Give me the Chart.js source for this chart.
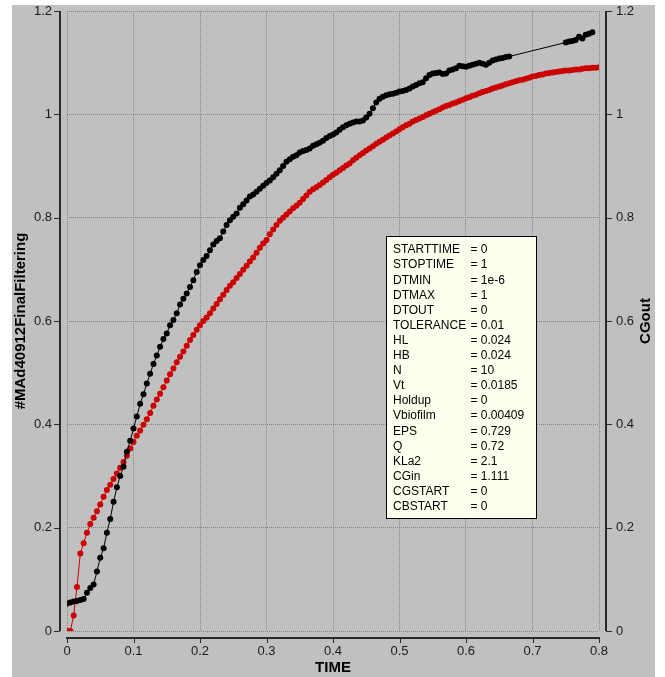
<!DOCTYPE html>
<html>
<head>
<meta charset="utf-8">
<script src="https://cdn.jsdelivr.net/npm/chart.js@4.4.1/dist/chart.umd.min.js"></script>
<style>
html, body { margin: 0; padding: 0; background: #fff; }
canvas { display: block; }
</style>
</head>
<body>
<canvas id="simChart" width="665" height="677"></canvas>
<script>
// sample times (TIME)
const times = [
  0, 0.005, 0.01, 0.015, 0.02, 0.025, 0.03, 0.035, 0.04, 0.045, 0.05, 0.055, 0.06, 0.065, 0.07, 0.075, 0.08, 0.085, 0.09, 0.095,
  0.1, 0.105, 0.11, 0.115, 0.12, 0.125, 0.13, 0.135, 0.14, 0.145, 0.15, 0.155, 0.16, 0.165, 0.17, 0.175, 0.18, 0.185, 0.19, 0.195,
  0.2, 0.205, 0.21, 0.215, 0.22, 0.225, 0.23, 0.235, 0.24, 0.245, 0.25, 0.255, 0.26, 0.265, 0.27, 0.275, 0.28, 0.285, 0.29, 0.295,
  0.3, 0.305, 0.31, 0.315, 0.32, 0.325, 0.33, 0.335, 0.34, 0.345, 0.35, 0.355, 0.36, 0.365, 0.37, 0.375, 0.38, 0.385, 0.39, 0.395,
  0.4, 0.405, 0.41, 0.415, 0.42, 0.425, 0.43, 0.435, 0.44, 0.445, 0.45, 0.455, 0.46, 0.465, 0.47, 0.475, 0.48, 0.485, 0.49, 0.495,
  0.5, 0.505, 0.51, 0.515, 0.52, 0.525, 0.53, 0.535, 0.54, 0.545, 0.55, 0.555, 0.56, 0.565, 0.57, 0.575, 0.58, 0.585, 0.59, 0.595,
  0.6, 0.605, 0.61, 0.615, 0.62, 0.625, 0.63, 0.635, 0.64, 0.645, 0.65, 0.655, 0.66, 0.665, 0.67, 0.675, 0.68, 0.685, 0.69, 0.695,
  0.7, 0.705, 0.71, 0.715, 0.72, 0.725, 0.73, 0.735, 0.74, 0.745, 0.75, 0.755, 0.76, 0.765, 0.77, 0.775, 0.78, 0.785, 0.79, 0.795,
  0.8
];

// #MAd40912FinalFiltering (measured, left axis)
const measured = [
  0.053, 0.055, 0.057, 0.058, 0.06, 0.062, 0.074, 0.083, 0.09, 0.115, 0.142, 0.16, 0.19, 0.217, 0.25, 0.278, 0.3, 0.318, 0.347, 0.368,
  0.392, 0.415, 0.44, 0.458, 0.479, 0.498, 0.517, 0.533, 0.55, 0.565, 0.576, 0.592, 0.602, 0.615, 0.632, 0.643, 0.653, 0.666, 0.679, 0.695,
  0.708, 0.718, 0.726, 0.737, 0.748, 0.755, 0.76, 0.773, 0.786, 0.795, 0.802, 0.808, 0.819, 0.826, 0.833, 0.841, 0.845, 0.85, 0.856, 0.862,
  0.867, 0.872, 0.878, 0.885, 0.892, 0.9, 0.908, 0.913, 0.918, 0.921, 0.926, 0.929, 0.931, 0.934, 0.939, 0.942, 0.945, 0.949, 0.954, 0.958,
  0.961, 0.965, 0.97, 0.975, 0.979, 0.982, 0.984, 0.986, 0.986, 0.988, 0.994, 1.001, 1.012, 1.023, 1.03, 1.034, 1.037, 1.039, 1.04, 1.042,
  1.044, 1.045, 1.047, 1.05, 1.054, 1.057, 1.06, 1.062, 1.07, 1.076, 1.079, 1.08, 1.081, 1.078, 1.079, 1.085, 1.087, 1.089, 1.094, 1.093,
  1.092, 1.094, 1.096, 1.098, 1.1, 1.098, 1.096, 1.1, 1.104, 1.106, 1.108, 1.109, 1.111, 1.112, null, null, null, null, null, null,
  null, null, null, null, null, null, null, null, null, null, 1.139, 1.141, 1.142, 1.144, 1.15, 1.147, 1.154, 1.156, 1.159, null,
  null
];

// CGout (model, right axis)
const cgout = [
  0, 0, 0.03, 0.085, 0.15, 0.17, 0.19, 0.207, 0.219, 0.232, 0.245, 0.26, 0.273, 0.283, 0.294, 0.305, 0.316, 0.327, 0.339, 0.353,
  0.366, 0.378, 0.388, 0.399, 0.41, 0.422, 0.436, 0.448, 0.459, 0.472, 0.485, 0.497, 0.508, 0.52, 0.531, 0.541, 0.552, 0.563, 0.573, 0.583,
  0.592, 0.6, 0.607, 0.615, 0.624, 0.633, 0.642, 0.651, 0.66, 0.668, 0.675, 0.683, 0.691, 0.699, 0.707, 0.715, 0.723, 0.732, 0.742, 0.75,
  0.757, 0.768, 0.777, 0.786, 0.794, 0.8, 0.806, 0.812, 0.818, 0.823, 0.829, 0.836, 0.843, 0.85, 0.855, 0.859, 0.863, 0.868, 0.873, 0.878,
  0.883, 0.887, 0.892, 0.896, 0.901, 0.905, 0.911, 0.916, 0.921, 0.925, 0.93, 0.934, 0.938, 0.943, 0.947, 0.951, 0.955, 0.959, 0.963, 0.967,
  0.971, 0.975, 0.979, 0.982, 0.986, 0.989, 0.992, 0.995, 0.998, 1.001, 1.004, 1.007, 1.01, 1.013, 1.016, 1.018, 1.021, 1.023, 1.026, 1.028,
  1.031, 1.033, 1.036, 1.038, 1.041, 1.043, 1.045, 1.047, 1.05, 1.052, 1.054, 1.056, 1.058, 1.06, 1.062, 1.064, 1.066, 1.067, 1.069, 1.071,
  1.073, 1.074, 1.076, 1.077, 1.079, 1.08, 1.081, 1.082, 1.083, 1.084, 1.085, 1.085, 1.086, 1.087, 1.087, 1.088, 1.089, 1.089, 1.09, 1.09,
  1.091
];

// parameter box
const paramNames = ['STARTTIME', 'STOPTIME', 'DTMIN', 'DTMAX', 'DTOUT', 'TOLERANCE', 'HL', 'HB', 'N', 'Vt',
  'Holdup', 'Vbiofilm', 'EPS', 'Q', 'KLa2', 'CGin', 'CGSTART', 'CBSTART'];
const paramValues = ['0', '1', '1e-6', '1', '0', '0.01', '0.024', '0.024', '10', '0.0185',
  '0', '0.00409', '0.729', '0.72', '2.1', '1.111', '0', '0'];

const FONT = '"Liberation Sans", Arial, sans-serif';
Chart.defaults.font.family = FONT;

// grey panel, offset axes, parameter box, right title
const framePlugin = {
  id: 'frame',
  beforeDraw(chart) {
    const c = chart.ctx;
    c.save();
    c.fillStyle = '#ffffff';
    c.fillRect(0, 0, chart.width, chart.height);
    c.fillStyle = '#c0c0c0';
    c.fillRect(12, 5, 643, chart.height - 5);
    c.restore();
  },
  afterDraw(chart) {
    const c = chart.ctx;
    const a = chart.chartArea;
    const sx = chart.scales.x, sy = chart.scales.y, sy2 = chart.scales.y2;
    c.save();
    // axis lines
    c.strokeStyle = '#2a2a2a';
    c.lineWidth = 2;
    c.beginPath();
    c.moveTo(a.left - 7, a.top); c.lineTo(a.left - 7, a.bottom);
    c.moveTo(a.right + 7, a.top); c.lineTo(a.right + 7, a.bottom);
    c.moveTo(a.left - 1, a.bottom + 7); c.lineTo(a.right + 1, a.bottom + 7);
    c.stroke();
    // tick marks
    c.lineWidth = 1;
    c.beginPath();
    sy.ticks.forEach(t => {
      const p = Math.round(sy.getPixelForValue(t.value)) + 0.5;
      c.moveTo(a.left - 7, p); c.lineTo(a.left - 13, p);
    });
    sy2.ticks.forEach(t => {
      const p = Math.round(sy2.getPixelForValue(t.value)) + 0.5;
      c.moveTo(a.right + 7, p); c.lineTo(a.right + 13, p);
    });
    sx.ticks.forEach(t => {
      const p = Math.round(sx.getPixelForValue(t.value)) + 0.5;
      c.moveTo(p, a.bottom + 7); c.lineTo(p, a.bottom + 12);
    });
    c.stroke();

    // right axis title
    c.fillStyle = '#000';
    c.font = 'bold 15px ' + FONT;
    c.textAlign = 'center';
    c.textBaseline = 'middle';
    c.translate(646, (a.top + a.bottom) / 2);
    c.rotate(-Math.PI / 2);
    c.fillText('CGout', 0, 0);
    c.restore();

    // parameter box
    c.save();
    const bx = a.left + 319, by = a.top + 225, bw = 151, bh = 283;
    c.fillStyle = '#fffff0';
    c.fillRect(bx, by, bw, bh);
    c.strokeStyle = '#000';
    c.lineWidth = 1;
    c.strokeRect(bx + 0.5, by + 0.5, bw - 1, bh - 1);
    c.fillStyle = '#000';
    c.font = '12px ' + FONT;
    c.textAlign = 'left';
    c.textBaseline = 'middle';
    paramNames.forEach((n, i) => {
      const ty = by + 14 + i * 15.1;
      c.fillText(n, bx + 7, ty);
      c.fillText('= ' + paramValues[i], bx + 84.5, ty);
    });
    c.restore();
  }
};

const tickFont = { family: FONT, size: 13 };
const titleFont = { family: FONT, size: 15, weight: 'bold' };
const plainNum = v => String(Math.round(v * 10) / 10);

new Chart(document.getElementById('simChart').getContext('2d'), {
  type: 'line',
  data: {
    datasets: [
      {
        label: '#MAd40912FinalFiltering',
        data: times.map((t, i) => ({ x: t, y: measured[i] })),
        borderColor: '#000000',
        backgroundColor: '#000000',
        borderWidth: 1,
        pointRadius: 3,
        pointBorderWidth: 0,
        pointBackgroundColor: '#000000',
        spanGaps: true,
        tension: 0,
        yAxisID: 'y'
      },
      {
        label: 'CGout',
        data: times.map((t, i) => ({ x: t, y: cgout[i] })),
        borderColor: '#cc0000',
        backgroundColor: '#cc0000',
        borderWidth: 1,
        pointRadius: 3,
        pointBorderWidth: 0,
        pointBackgroundColor: '#cc0000',
        tension: 0,
        yAxisID: 'y2'
      }
    ]
  },
  options: {
    responsive: false,
    animation: false,
    devicePixelRatio: 1,
    layout: { padding: { left: 12, right: 10, top: 11, bottom: 0 } },
    plugins: { legend: { display: false }, tooltip: { enabled: false } },
    scales: {
      x: {
        type: 'linear',
        min: 0,
        max: 0.8,
        border: { display: false, dash: [1, 1] },
        grid: { color: '#858585', drawTicks: false },
        ticks: { stepSize: 0.1, padding: 13, color: '#1a1a1a', font: tickFont, callback: plainNum },
        title: { display: true, text: 'TIME', color: '#000', font: titleFont, padding: 0 },
        afterFit(s) { s.height = 46; s.paddingLeft = 0; s.paddingRight = 0; }
      },
      y: {
        position: 'left',
        min: 0,
        max: 1.2,
        border: { display: false, dash: [1, 1] },
        grid: { color: '#858585', drawTicks: false },
        ticks: { stepSize: 0.2, padding: 15, color: '#1a1a1a', font: tickFont, callback: plainNum },
        title: { display: true, text: '#MAd40912FinalFiltering', color: '#000', font: titleFont, padding: 0 },
        afterFit(s) { s.width = 55; s.paddingTop = 0; s.paddingBottom = 0; }
      },
      y2: {
        position: 'right',
        min: 0,
        max: 1.2,
        border: { display: false },
        grid: { display: false, drawTicks: false },
        ticks: { stepSize: 0.2, padding: 17, color: '#1a1a1a', font: tickFont, callback: plainNum },
        afterFit(s) { s.width = 56; s.paddingTop = 0; s.paddingBottom = 0; }
      }
    }
  },
  plugins: [framePlugin]
});
</script>
</body>
</html>
